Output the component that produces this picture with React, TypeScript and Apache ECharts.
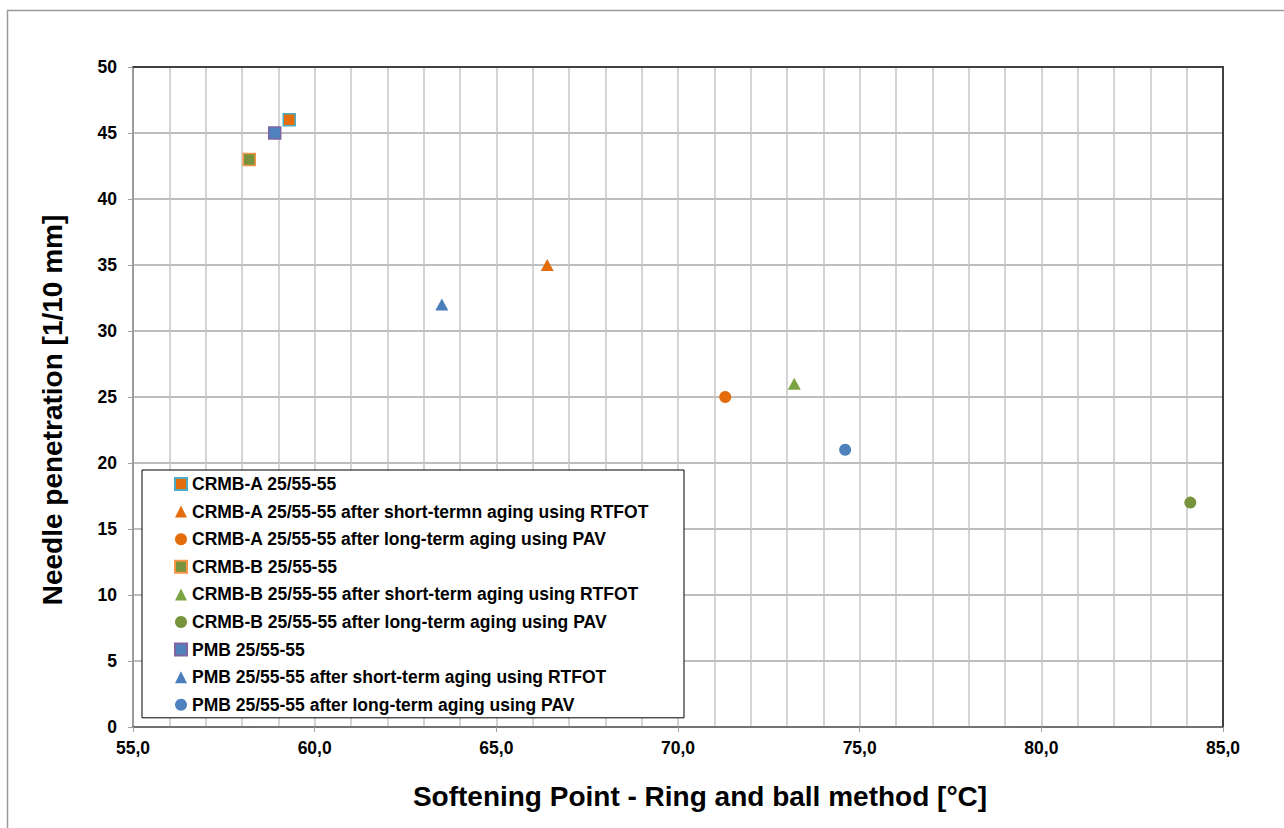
import React, { useEffect, useRef } from "react";
import * as echarts from "echarts";

const seriesNames = [
  "CRMB-A 25/55-55",
  "CRMB-A 25/55-55 after short-termn aging using RTFOT",
  "CRMB-A 25/55-55 after long-term aging using PAV",
  "CRMB-B 25/55-55",
  "CRMB-B 25/55-55 after short-term aging using RTFOT",
  "CRMB-B 25/55-55 after long-term aging using PAV",
  "PMB 25/55-55",
  "PMB 25/55-55 after short-term aging using RTFOT",
  "PMB 25/55-55 after long-term aging using PAV",
];
const softeningPoint = [59.3, 66.4, 71.3, 58.2, 73.2, 84.1, 58.9, 63.5, 74.6];
const penetration = [46, 35, 25, 43, 26, 17, 45, 32, 21];
const symbols = ["rect", "triangle", "circle", "rect", "triangle", "circle", "rect", "triangle", "circle"];
const fillColors = ["#E46C0A", "#E46C0A", "#E46C0A", "#77933C", "#7DA442", "#77933C", "#4F81BD", "#4A7EBB", "#4F81BD"];
const borderColors = ["#4BACC6", null, null, "#F79646", null, null, "#8064A2", null, null];

const xTitle = "Softening Point - Ring and ball method [°C]";
const yTitle = "Needle penetration [1/10 mm]";

const FONT = "'Liberation Sans', Arial, sans-serif";

export default function App() {
  const ref = useRef<HTMLDivElement>(null);
  useEffect(() => {
    if (!ref.current) return;
    const chart = echarts.init(ref.current, null, { renderer: "svg" });
    const series = seriesNames.map((name, i) => ({
      name,
      type: "scatter",
      symbol: symbols[i],
      symbolSize: symbols[i] === "triangle" ? [13, 12] : 12,
      data: [[softeningPoint[i], penetration[i]]],
      itemStyle: {
        color: fillColors[i],
        borderColor: borderColors[i] || fillColors[i],
        borderWidth: borderColors[i] ? 1.5 : 0,
        opacity: 1,
      },
      z: 5,
    }));
    chart.setOption({
      animation: false,
      backgroundColor: "#fff",
      textStyle: { fontFamily: FONT },
      grid: { left: 133, right: 61, top: 67, bottom: 101, containLabel: false },
      xAxis: [
        {
          type: "value",
          min: 55,
          max: 85,
          interval: 5,
          position: "bottom",
          axisLine: { show: true, onZero: false, lineStyle: { color: "#5A5A5A", width: 1.5 } },
          axisTick: { show: true, inside: false, length: 5, lineStyle: { color: "#A0A0A0", width: 1 } },
          axisLabel: {
            margin: 12,
            color: "#000",
            fontWeight: "bold",
            fontSize: 17.5,
            fontFamily: FONT,
            formatter: (v: number) => v.toFixed(1).replace(".", ","),
          },
          splitLine: { show: true, lineStyle: { color: "#C6C6C6", width: 1.5 } },
          minorTick: { show: false, splitNumber: 5 },
          minorSplitLine: { show: true, lineStyle: { color: "#C6C6C6", width: 1.5 } },
        },
        {
          type: "value",
          min: 55,
          max: 85,
          position: "top",
          axisLine: { show: true, onZero: false, lineStyle: { color: "#404040", width: 2 } },
          axisTick: { show: false },
          axisLabel: { show: false },
          splitLine: { show: false },
        },
      ],
      yAxis: [
        {
          type: "value",
          min: 0,
          max: 50,
          interval: 5,
          position: "left",
          axisLine: { show: true, onZero: false, lineStyle: { color: "#888888", width: 1.5 } },
          axisTick: { show: true, inside: false, length: 5, lineStyle: { color: "#A0A0A0", width: 1 } },
          axisLabel: {
            margin: 16,
            color: "#000",
            fontWeight: "bold",
            fontSize: 17.5,
            fontFamily: FONT,
          },
          splitLine: { show: true, lineStyle: { color: "#A8A8A8", width: 1.5 } },
        },
        {
          type: "value",
          min: 0,
          max: 50,
          position: "right",
          axisLine: { show: true, onZero: false, lineStyle: { color: "#404040", width: 2 } },
          axisTick: { show: false },
          axisLabel: { show: false },
          splitLine: { show: false },
        },
      ],
      legend: {
        show: true,
        orient: "vertical",
        left: 142,
        top: 470,
        padding: [4, 35, 3, 32],
        itemGap: 7.6,
        itemWidth: 12,
        itemHeight: 12,
        backgroundColor: "#fff",
        borderColor: "#000",
        borderWidth: 1,
        borderRadius: 0,
        data: seriesNames,
        textStyle: {
          color: "#000",
          fontWeight: "bold",
          fontSize: 17.5,
          lineHeight: 20,
          fontFamily: FONT,
        },
        z: 10,
      },
      graphic: [
        {
          type: "rect",
          silent: true,
          shape: { x: 7.5, y: 10.5, width: 1400, height: 1000 },
          style: { fill: "none", stroke: "#9A9A9A", lineWidth: 1.5 },
          z: 0,
        },
        {
          type: "text",
          x: 700,
          y: 796,
          style: {
            text: xTitle,
            fontSize: 28,
            fontWeight: "bold",
            fontFamily: FONT,
            fill: "#000",
            align: "center",
            verticalAlign: "middle",
          },
        },
        {
          type: "text",
          x: 52,
          y: 410,
          rotation: Math.PI / 2,
          style: {
            text: yTitle,
            fontSize: 28,
            fontWeight: "bold",
            fontFamily: FONT,
            fill: "#000",
            align: "center",
            verticalAlign: "middle",
          },
        },
      ],
      series,
    });
    return () => chart.dispose();
  }, []);
  return (
    <div
      ref={ref}
      style={{ position: "fixed", left: 0, top: 0, width: 1284, height: 828 }}
    />
  );
}
